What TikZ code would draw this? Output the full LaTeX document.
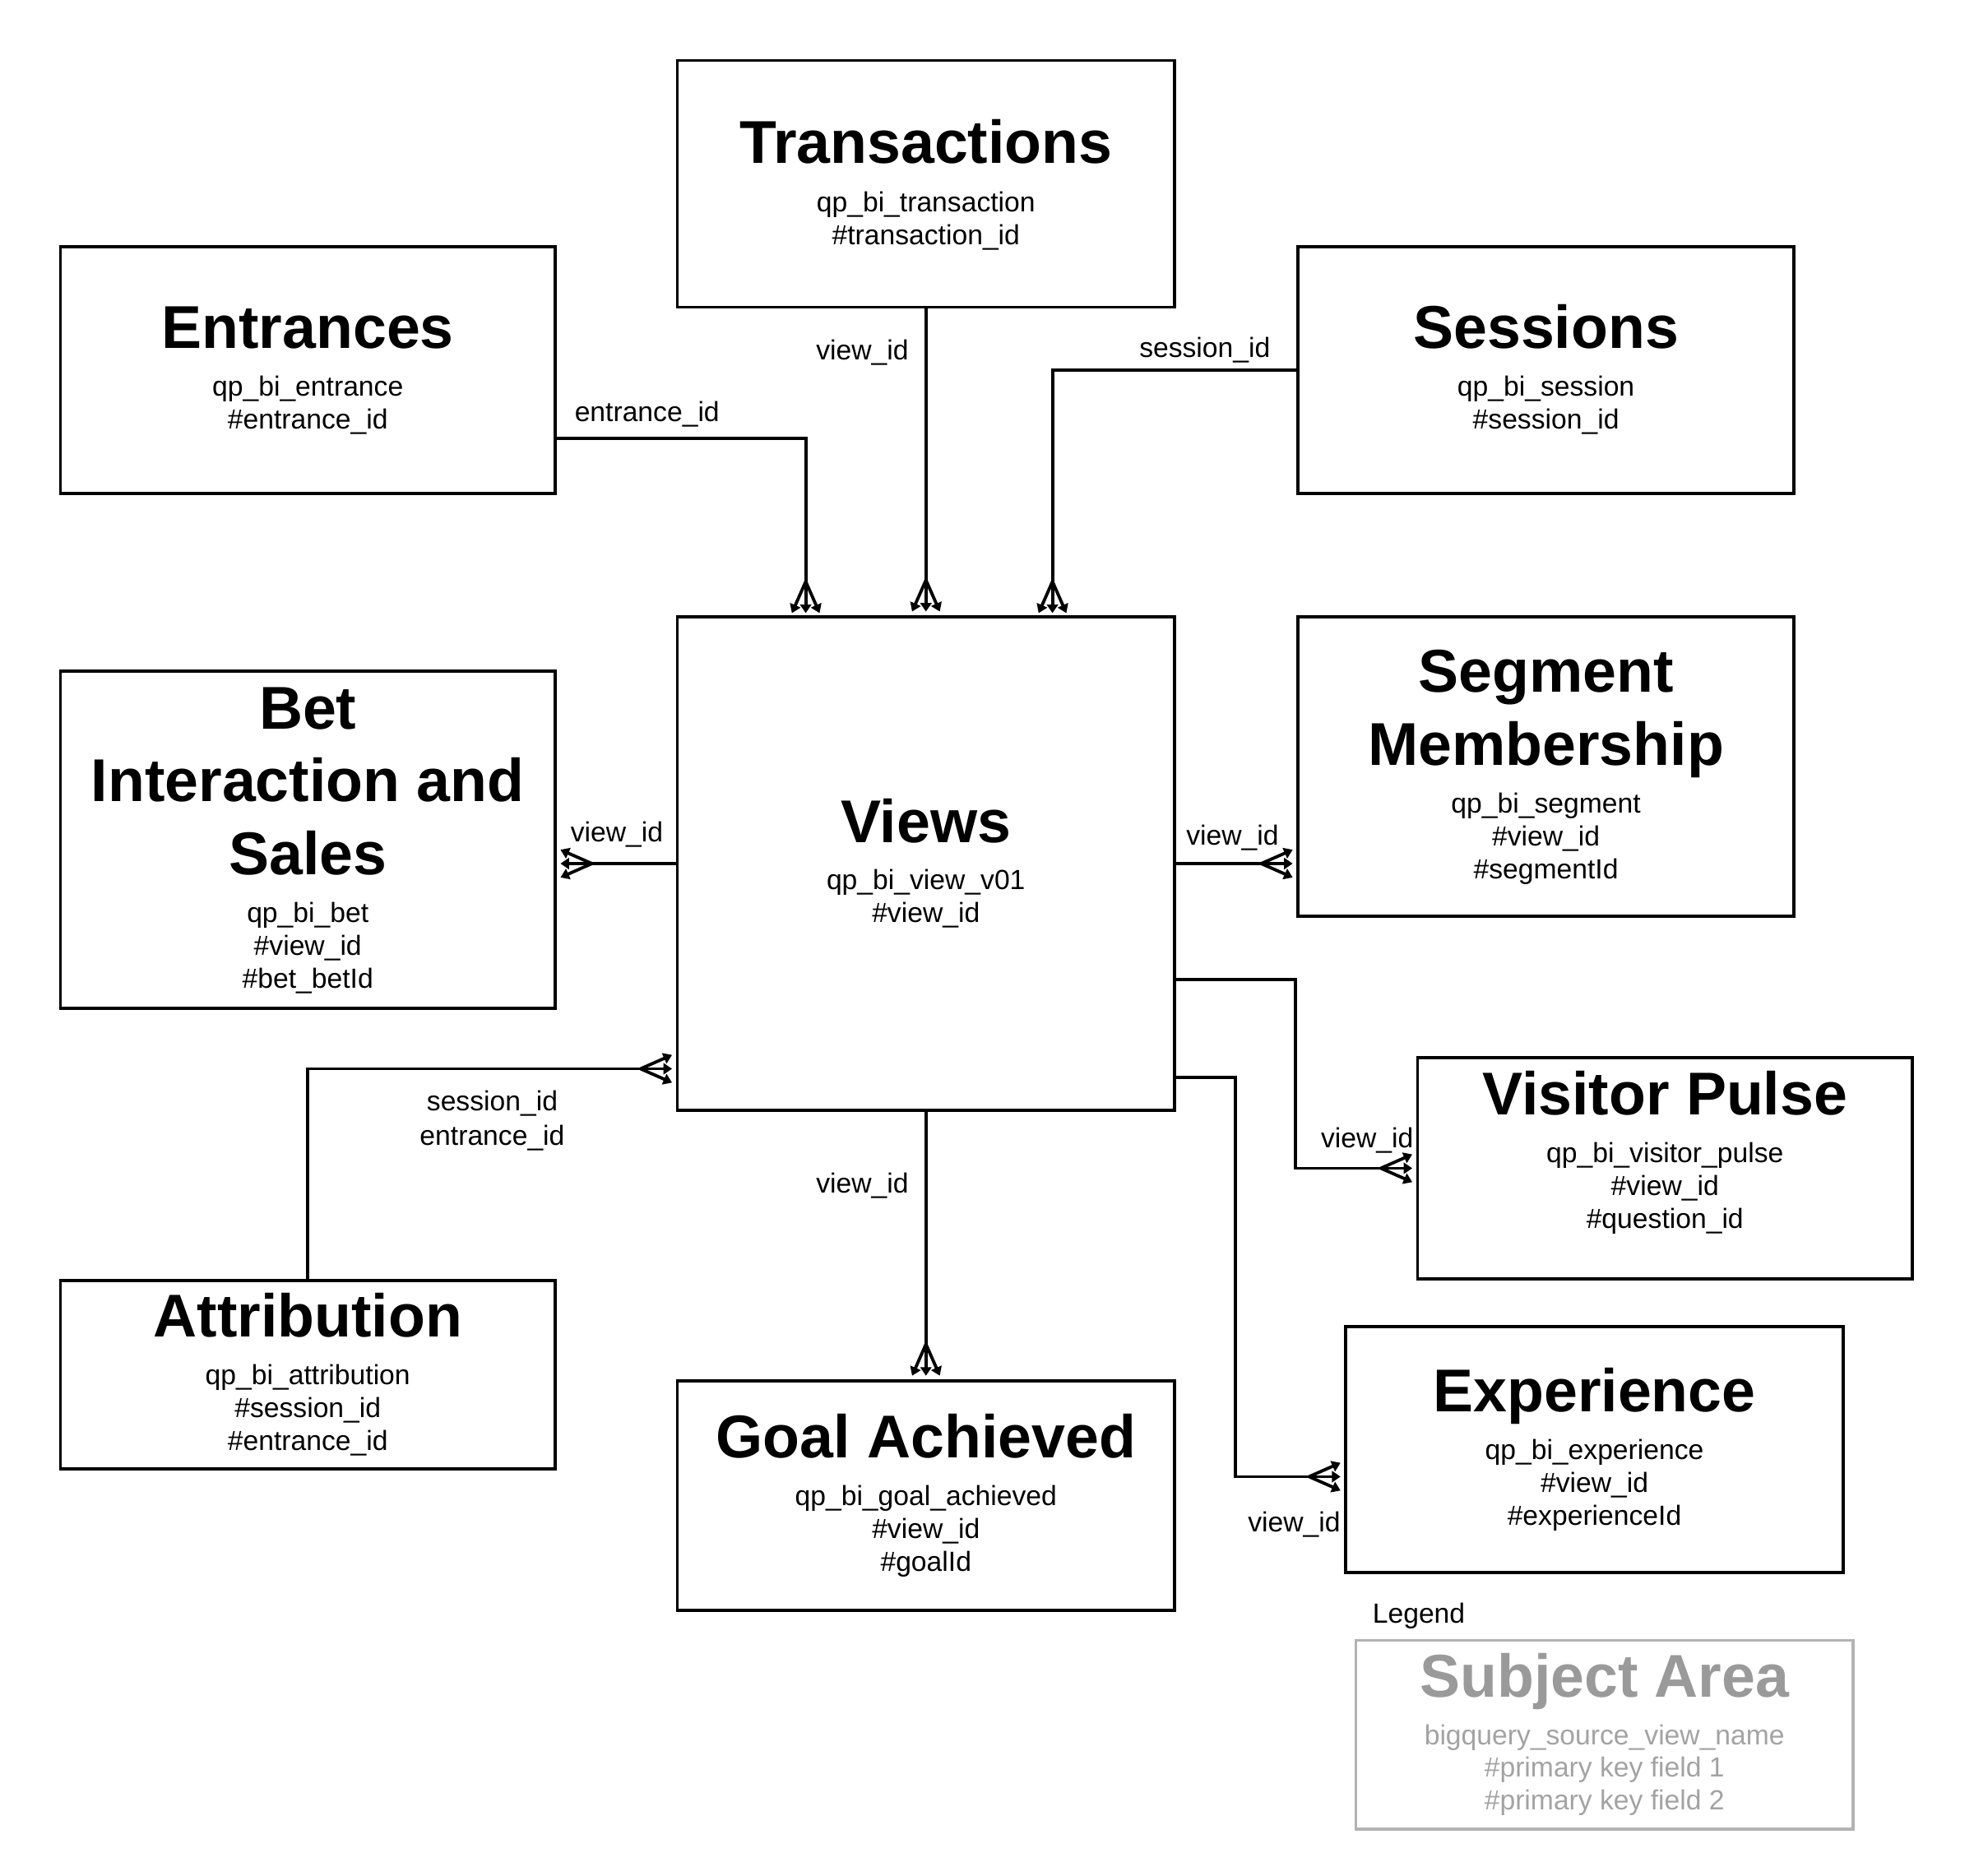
\documentclass[tikz,border=0pt]{standalone}
\usepackage{fontspec}
\setmainfont{Liberation Sans}
\usetikzlibrary{arrows.meta,calc,fit}
\definecolor{lgtitle}{HTML}{9A9A9A}
\definecolor{lgtext}{HTML}{A3A3A3}
\definecolor{lgborder}{HTML}{B3B3B3}
\newcommand\crowdown[1]{%
  \coordinate (#1-j) at ($(#1)+(0,-28)$);
  \draw[crow] (#1-j) -- ($(#1)+(-11,-3)$);
  \draw[crow] (#1-j) -- ($(#1)+(0,-3)$);
  \draw[crow] (#1-j) -- ($(#1)+(11,-3)$);}
\newcommand\crowright[1]{%
  \coordinate (#1-j) at ($(#1)+(-28,0)$);
  \draw[crow] (#1-j) -- ($(#1)+(-3,-11)$);
  \draw[crow] (#1-j) -- ($(#1)+(-3,0)$);
  \draw[crow] (#1-j) -- ($(#1)+(-3,11)$);}
\newcommand\crowleft[1]{%
  \coordinate (#1-j) at ($(#1)+(28,0)$);
  \draw[crow] (#1-j) -- ($(#1)+(3,-11)$);
  \draw[crow] (#1-j) -- ($(#1)+(3,0)$);
  \draw[crow] (#1-j) -- ($(#1)+(3,11)$);}
\begin{document}
\begin{tikzpicture}[x=0.5pt,y=-0.5pt,
  box/.style={draw, line width=1.2pt, inner sep=0pt},
  lbox/.style={draw=lgborder, line width=1.2pt, inner sep=0pt},
  ttl/.style={anchor=base, inner sep=0pt, font=\fontsize{24}{28.8}\selectfont\bfseries},
  sub/.style={anchor=base, inner sep=0pt, font=\fontsize{11}{13.2}\selectfont},
  lab/.style={anchor=base, inner sep=0pt, font=\fontsize{11}{13.2}\selectfont},
  conn/.style={line width=1.25pt},
  crow/.style={line width=1.25pt, -{Triangle[length=3.4pt,width=4.4pt]}},
]
\useasboundingbox (0,0) rectangle (1568,1490);

% ---------- boxes ----------
\node[box, fit={(538,48)(933,244)}] (trans) {};
\node[box, fit={(48,196)(441,392)}] (entr) {};
\node[box, fit={(1031,196)(1425,392)}] (sess) {};
\node[box, fit={(538,490)(933,882)}] (views) {};
\node[box, fit={(48,533)(441,801)}] (bet) {};
\node[box, fit={(1031,490)(1425,728)}] (seg) {};
\node[box, fit={(1126,840)(1519,1016)}] (vp) {};
\node[box, fit={(48,1017)(441,1167)}] (attr) {};
\node[box, fit={(538,1097)(933,1279)}] (goal) {};
\node[box, fit={(1069,1054)(1464,1249)}] (exp) {};
\node[lbox, fit={(1077,1303)(1472,1453)}] (legend) {};

% ---------- box texts ----------
\node[ttl] (trans-t) at (735.5,130) {Transactions};
\node[sub] (trans-s1) at (735.5,168) {qp\_bi\_transaction};
\node[sub] (trans-s2) at (735.5,194.2) {\#transaction\_id};

\node[ttl] (entr-t) at (244.5,277) {Entrances};
\node[sub] (entr-s1) at (244.5,314.8) {qp\_bi\_entrance};
\node[sub] (entr-s2) at (244.5,340.9) {\#entrance\_id};

\node[ttl] (sess-t) at (1228,277) {Sessions};
\node[sub] (sess-s1) at (1228,314.8) {qp\_bi\_session};
\node[sub] (sess-s2) at (1228,340.9) {\#session\_id};

\node[ttl] (views-t) at (735.5,669) {Views};
\node[sub] (views-s1) at (735.5,706.8) {qp\_bi\_view\_v01};
\node[sub] (views-s2) at (735.5,732.9) {\#view\_id};

\node[ttl] (bet-t1) at (244.5,579) {Bet};
\node[ttl] (bet-t2) at (244.5,636.9) {Interaction and};
\node[ttl] (bet-t3) at (244.5,694.8) {Sales};
\node[sub] (bet-s1) at (244.5,732.6) {qp\_bi\_bet};
\node[sub] (bet-s2) at (244.5,758.7) {\#view\_id};
\node[sub] (bet-s3) at (244.5,784.8) {\#bet\_betId};

\node[ttl] (seg-t1) at (1228,550) {Segment};
\node[ttl] (seg-t2) at (1228,607.9) {Membership};
\node[sub] (seg-s1) at (1228,645.7) {qp\_bi\_segment};
\node[sub] (seg-s2) at (1228,671.8) {\#view\_id};
\node[sub] (seg-s3) at (1228,697.9) {\#segmentId};

\node[ttl] (vp-t) at (1322.5,885.6) {Visitor Pulse};
\node[sub] (vp-s1) at (1322.5,923.4) {qp\_bi\_visitor\_pulse};
\node[sub] (vp-s2) at (1322.5,949.5) {\#view\_id};
\node[sub] (vp-s3) at (1322.5,975.6) {\#question\_id};

\node[ttl] (attr-t) at (244.5,1061.9) {Attribution};
\node[sub] (attr-s1) at (244.5,1099.7) {qp\_bi\_attribution};
\node[sub] (attr-s2) at (244.5,1125.8) {\#session\_id};
\node[sub] (attr-s3) at (244.5,1151.9) {\#entrance\_id};

\node[ttl] (goal-t) at (735.5,1158) {Goal Achieved};
\node[sub] (goal-s1) at (735.5,1195.8) {qp\_bi\_goal\_achieved};
\node[sub] (goal-s2) at (735.5,1221.9) {\#view\_id};
\node[sub] (goal-s3) at (735.5,1248) {\#goalId};

\node[ttl] (exp-t) at (1266.5,1121.4) {Experience};
\node[sub] (exp-s1) at (1266.5,1159.2) {qp\_bi\_experience};
\node[sub] (exp-s2) at (1266.5,1185.3) {\#view\_id};
\node[sub] (exp-s3) at (1266.5,1211.4) {\#experienceId};

\node[lab] (legend-l) at (1127,1289.5) {Legend};
\node[ttl, text=lgtitle] (legend-t) at (1274.5,1347.9) {Subject Area};
\node[sub, text=lgtext] (legend-s1) at (1274.5,1385.7) {bigquery\_source\_view\_name};
\node[sub, text=lgtext] (legend-s2) at (1274.5,1411.8) {\#primary key field 1};
\node[sub, text=lgtext] (legend-s3) at (1274.5,1437.9) {\#primary key field 2};

% ---------- connectors ----------
% Entrances -> Views
\coordinate (e1) at (640,490);
\crowdown{e1}
\draw[conn] ($(entr.east)+(0,54)$) -| (e1-j);
\node[lab] (l1) at (514,334.5) {entrance\_id};

% Transactions -> Views
\coordinate (e2) at (trans.south |- views.north);
\crowdown{e2}
\draw[conn] (trans.south) -- (e2-j);
\node[lab] (l2) at (685,285.5) {view\_id};

% Sessions -> Views
\coordinate (e3) at (836,490);
\crowdown{e3}
\draw[conn] (sess.west) -| (e3-j);
\node[lab] (l3) at (957,283.8) {session\_id};

% Views -> Bet
\coordinate (e4) at (bet.east |- views.west);
\crowleft{e4}
\draw[conn] (views.west) -- (e4-j);
\node[lab] (l4) at (490,668.5) {view\_id};

% Views -> Segment
\coordinate (e5) at (seg.west |- views.east);
\crowright{e5}
\draw[conn] (views.east) -- (e5-j);
\node[lab] (l5) at (979,671.5) {view\_id};

% Views -> Visitor Pulse
\coordinate (e6) at (vp.west);
\crowright{e6}
\draw[conn] ($(views.east)+(0,92)$) -- ++(95,0) |- (e6-j);
\node[lab] (l6) at (1086,911.5) {view\_id};

% Views -> Experience
\coordinate (e7) at ($(exp.west)+(0,21.5)$);
\crowright{e7}
\draw[conn] ($(views.east)+(0,170)$) -- ++(47,0) |- (e7-j);
\node[lab] (l7) at (1028,1216.5) {view\_id};

% Views -> Goal Achieved
\coordinate (e8) at (views.south |- goal.north);
\crowdown{e8}
\draw[conn] (views.south) -- (e8-j);
\node[lab] (l8) at (685,947.5) {view\_id};

% Attribution -> Views
\coordinate (e9) at ($(views.west)+(0,163)$);
\crowright{e9}
\draw[conn] (attr.north) |- (e9-j);
\node[lab] (l9a) at (391,882.5) {session\_id};
\node[lab] (l9b) at (391,909.5) {entrance\_id};

\end{tikzpicture}
\end{document}
